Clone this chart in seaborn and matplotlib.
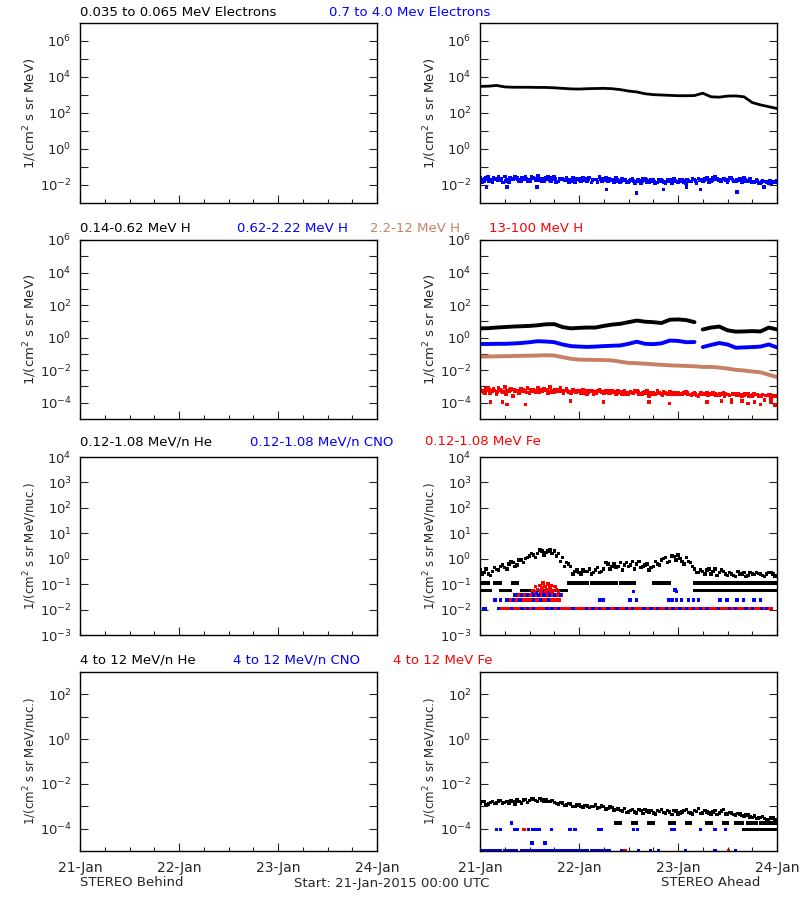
import numpy as np
import pandas as pd
import matplotlib
matplotlib.use("Agg")
import matplotlib.pyplot as plt
import seaborn as sns

sns.set_style("ticks")
plt.rcParams['font.family'] = ['DejaVu Sans']

# ---------------- data (log10 of flux) ----------------
# time in hours since 21-Jan-2015 00:00 UTC
day_labels = ["21-Jan", "22-Jan", "23-Jan", "24-Jan"]

# Row 1 : electrons (STEREO Ahead)
e_low_2h = [3.48, 3.49, 3.53, 3.45, 3.43, 3.43, 3.43, 3.42, 3.42, 3.40, 3.37, 3.34,
            3.33, 3.35, 3.36, 3.37, 3.35, 3.30, 3.22, 3.17, 3.07, 3.02, 3.00, 2.98,
            2.96, 2.96, 2.97, 3.10, 2.90, 2.88, 2.94, 2.95, 2.90, 2.58, 2.45, 2.35, 2.25]
e_high_1h = [-1.62, -1.78, -1.55, -1.85, -1.66, -1.74, -1.52, -1.82, -1.70, -1.58, -1.78, -1.55,
             -1.72, -1.62, -1.50, -1.76, -1.60, -1.72, -1.55, -1.80, -1.66, -1.58, -1.74, -1.84,
             -1.68, -1.60, -1.78, -1.86, -1.70, -1.56, -1.66, -1.80, -1.70, -1.60, -1.84, -1.72,
             -1.86, -1.68, -1.80, -1.88, -1.66, -1.82, -1.74, -1.86, -1.70, -1.90, -1.78, -1.66,
             -1.86, -1.74, -1.88, -1.80, -1.70, -1.64, -1.78, -1.62, -1.76, -1.56, -1.72, -1.66,
             -1.82, -1.62, -1.76, -1.66, -1.58, -1.78, -1.86, -1.74, -1.88, -1.80, -1.90, -1.84, -1.78]
e_high_half = [-1.84, -1.62, -1.74, -1.68, -1.56, -1.86, -1.70, -1.64, -1.54, -1.76, -1.68, -1.80,
               -1.56, -1.74, -1.66, -1.78, -1.54, -1.62, -1.84, -1.70, -1.74, -1.86, -1.62, -1.70,
               -1.80, -1.74, -1.58, -1.70, -1.84, -1.76, -1.62, -1.74, -1.86, -1.76, -1.68, -1.84,
               -1.72, -1.90, -1.76, -1.66, -1.86, -1.72, -1.92, -1.78, -1.84, -1.74, -1.88, -1.80,
               -1.70, -1.86, -1.78, -1.66, -1.88, -1.74, -1.66, -1.82, -1.60, -1.68, -1.80, -1.72,
               -1.60, -1.80, -1.72, -1.84, -1.76, -1.66, -1.82, -1.90, -1.78, -1.84, -1.92, -1.86]
e_high_q = [-1.70, -1.66, -1.80, -1.60, -1.72, -1.68, -1.76, -1.58, -1.64, -1.70, -1.62, -1.68,
            -1.78, -1.64, -1.72, -1.68, -1.70, -1.76, -1.66, -1.64, -1.70, -1.72, -1.78, -1.66,
            -1.72, -1.68, -1.66, -1.74, -1.70, -1.68, -1.74, -1.66, -1.72, -1.70, -1.76, -1.74,
            -1.78, -1.76, -1.70, -1.80, -1.74, -1.76, -1.80, -1.72, -1.78, -1.80, -1.74, -1.76,
            -1.80, -1.78, -1.74, -1.80, -1.76, -1.72, -1.74, -1.70, -1.72, -1.70, -1.74, -1.68,
            -1.72, -1.70, -1.74, -1.72, -1.70, -1.76, -1.80, -1.78, -1.82, -1.80, -1.78, -1.82]
e_high_out_t = [1.6, 6.5, 13.8, 30.7, 38.0, 44.5, 50.0, 53.4, 62.3, 68.8]
e_high_out_v = [-2.10, -2.10, -2.10, -2.25, -2.45, -2.25, -2.10, -2.25, -2.40, -2.10]

# Row 2 : protons (STEREO Ahead), 2-hourly; gap after hour 52
h1_2h = [0.57, 0.58, 0.62, 0.65, 0.68, 0.70, 0.72, 0.76, 0.82, 0.83, 0.65, 0.57, 0.60, 0.62,
         0.62, 0.72, 0.80, 0.85, 0.95, 1.05, 0.98, 0.95, 0.90, 1.10, 1.12, 1.08, 0.95,
         0.50, 0.62, 0.68, 0.45, 0.37, 0.38, 0.40, 0.38, 0.62, 0.50]
h2_2h = [-0.39, -0.39, -0.38, -0.38, -0.36, -0.33, -0.28, -0.22, -0.24, -0.28, -0.42, -0.52,
         -0.55, -0.57, -0.55, -0.52, -0.50, -0.48, -0.38, -0.25, -0.38, -0.40, -0.35, -0.18,
         -0.20, -0.28, -0.27, -0.58, -0.45, -0.33, -0.42, -0.62, -0.60, -0.58, -0.55, -0.42, -0.60]
h3_2h = [-1.17, -1.16, -1.15, -1.14, -1.13, -1.12, -1.11, -1.10, -1.08, -1.10, -1.20, -1.30,
         -1.35, -1.36, -1.37, -1.38, -1.40, -1.48, -1.55, -1.57, -1.60, -1.64, -1.67, -1.70,
         -1.72, -1.74, -1.76, -1.80, -1.80, -1.84, -1.90, -1.98, -2.02, -2.08, -2.13, -2.28, -2.42]
h4_1h = [-3.20, -3.35, -3.10, -3.30, -3.45, -3.20, -3.05, -3.30, -3.60, -3.25, -3.15, -3.30,
         -3.40, -3.20, -3.10, -3.30, -3.25, -3.05, -3.35, -3.20, -3.30, -3.15, -3.40, -3.25,
         -3.30, -3.20, -3.50, -3.30, -3.35, -3.20, -3.40, -3.30, -3.25, -3.45, -3.35, -3.30,
         -3.50, -3.40, -3.30, -3.45, -3.35, -3.60, -3.40, -3.30, -3.45, -3.40, -3.35, -3.50,
         -3.40, -3.45, -3.35, -3.50, -3.40, -3.60, -3.45, -3.40, -3.50, -3.45, -3.55, -3.40,
         -3.50, -3.80, -3.45, -3.50, -3.55, -3.45, -3.60, -3.50, -3.55, -3.85, -3.50, -3.55, -3.60]
h4_half = [-3.30, -3.15, -3.40, -3.25, -3.10, -3.35, -3.25, -3.15, -3.30, -3.40, -3.20, -3.10,
           -3.30, -3.35, -3.20, -3.15, -3.40, -3.25, -3.30, -3.10, -3.25, -3.35, -3.20, -3.30,
           -3.40, -3.30, -3.25, -3.45, -3.30, -3.35, -3.25, -3.40, -3.35, -3.30, -3.45, -3.40,
           -3.35, -3.30, -3.45, -3.40, -3.30, -3.45, -3.50, -3.40, -3.35, -3.45, -3.40, -3.50,
           -3.45, -3.40, -3.50, -3.45, -3.55, -3.40, -3.50, -3.45, -3.40, -3.55, -3.50, -3.45,
           -3.55, -3.50, -3.45, -3.60, -3.50, -3.55, -3.45, -3.60, -3.50, -3.55, -3.65, -3.55]
h4_q = [-3.25, -3.40, -3.20, -3.15, -3.35, -3.28, -3.45, -3.22, -3.18, -3.32, -3.26, -3.38,
        -3.22, -3.28, -3.35, -3.24, -3.18, -3.36, -3.22, -3.30, -3.40, -3.26, -3.32, -3.36,
        -3.25, -3.42, -3.34, -3.30, -3.40, -3.28, -3.35, -3.44, -3.32, -3.40, -3.36, -3.48,
        -3.38, -3.44, -3.36, -3.50, -3.42, -3.38, -3.46, -3.40, -3.52, -3.44, -3.48, -3.40,
        -3.50, -3.44, -3.42, -3.54, -3.46, -3.50, -3.44, -3.56, -3.48, -3.52, -3.46, -3.58,
        -3.50, -3.46, -3.56, -3.52, -3.48, -3.58, -3.54, -3.50, -3.60, -3.56, -3.52, -3.60]
h4_out_t = [2.5, 5.5, 6.5, 11.0, 22.0, 30.0, 41.0, 46.0, 55.0, 58.5, 61.0, 63.5, 65.0, 66.5, 68.0, 70.5, 71.5]
h4_out_v = [-3.95, -3.95, -4.10, -4.10, -3.90, -3.95, -3.95, -4.05, -3.95, -3.90, -3.95, -3.90, -4.05, -3.95, -4.10, -3.90, -4.15]

# Row 3 : 0.12-1.08 MeV/n heavy ions (STEREO Ahead)
he1_1h = [-0.45, -0.55, -0.60, -0.50, -0.42, -0.30, -0.35, -0.20, -0.15, -0.25, -0.05, 0.00,
          0.10, 0.15, 0.20, 0.30, 0.25, 0.35, 0.30, 0.20, 0.05, -0.15, -0.30, -0.50,
          -0.55, -0.45, -0.50, -0.60, -0.45, -0.55, -0.40, -0.20, -0.30, -0.35, -0.15, -0.25,
          -0.30, -0.10, -0.20, -0.35, -0.25, -0.45, -0.30, -0.20, -0.05, 0.05, -0.10, 0.08,
          0.15, -0.10, 0.05, -0.15, -0.40, -0.55, -0.50, -0.45, -0.60, -0.40, -0.55, -0.50,
          -0.65, -0.60, -0.70, -0.60, -0.55, -0.65, -0.60, -0.55, -0.60, -0.70, -0.55, -0.60, -0.65]
he1_half = [-0.60, -0.40, -0.65, -0.35, -0.45, -0.25, -0.40, -0.10, -0.30, -0.05, -0.15, 0.05,
            0.20, 0.05, 0.35, 0.15, 0.30, 0.20, 0.10, -0.10, -0.30, -0.20, -0.60, -0.45,
            -0.60, -0.50, -0.40, -0.55, -0.35, -0.50, -0.15, -0.40, -0.20, -0.30, -0.45, -0.15,
            -0.25, -0.40, -0.10, -0.30, -0.20, -0.35, -0.10, -0.25, 0.00, -0.15, 0.10, -0.05,
            0.00, -0.20, -0.10, -0.30, -0.55, -0.45, -0.60, -0.40, -0.50, -0.65, -0.45, -0.60,
            -0.55, -0.65, -0.50, -0.60, -0.70, -0.55, -0.62, -0.58, -0.65, -0.60, -0.55, -0.68]
he1_lvl_a = -0.96
he1_lvl_a_spans = [(0, 2), (3.5, 5), (8, 9), (21.5, 26), (27, 33), (34, 37.5), (42, 46), (52, 72)]
he1_lvl_b = -1.26
he1_lvl_b_spans = [(0, 2.5), (5, 7.5), (10, 12.5), (15, 21), (52, 72)]

cno1_lvl_low = -1.96
cno1_low_t = [0.8, 1.2, 4.5, 7.6, 10.2, 11.5, 13.0, 16.2, 17.5, 19.0, 22.5, 25.8, 27.4, 29.0,
              31.0, 33.2, 35.5, 37.0, 39.8, 41.5, 43.0, 45.2, 46.8, 48.5, 50.0, 51.8, 53.5,
              55.0, 57.8, 60.5, 62.0, 64.5, 66.0, 68.2, 69.5]
cno1_lvl_mid = -1.62
cno1_mid_t = [3.6, 4.9, 6.5, 8.1, 9.7, 12.9, 14.6, 16.6, 29.0, 29.8, 36.4, 38.0, 45.7, 46.5,
              47.7, 48.9, 50.5, 51.8, 53.0, 58.2, 59.9, 62.3, 63.9, 66.4, 68.0]
cno1_lvl_up = -1.42
cno1_up_t = [8.5, 10.0, 11.5, 13.0, 14.2, 15.5, 16.8, 18.0, 19.5]
cno1_peak_t = [12.8, 13.6, 14.4, 15.2, 16.0, 16.8, 17.6, 37.2, 47.3, 47.6]
cno1_peak_v = [-1.30, -1.35, -1.25, -1.30, -1.28, -1.35, -1.30, -1.30, -1.23, -1.30]

fe1_low_spans = [(4.5, 70.5)]
fe1_mid_spans = [(7.3, 19.4)]
fe1_up_spans = [(9.0, 20.0)]
fe1_peak_t = [12.8, 13.2, 13.5, 14.0, 14.5, 14.8, 15.0, 15.3, 15.8, 16.0, 16.2, 16.5,
              17.0, 17.2, 17.4, 17.8, 18.2, 18.6, 19.0]
fe1_peak_v = [-1.25, -1.30, -1.10, -1.20, -1.05, -1.28, -1.15, -0.95, -1.10, -1.30, -1.20, -1.00,
              -1.15, -1.30, -1.05, -1.25, -1.10, -1.20, -1.30]

# Row 4 : 4-12 MeV/n heavy ions (STEREO Ahead)
he2_1h = [-2.85, -2.80, -2.90, -2.78, -2.85, -2.75, -2.82, -2.88, -2.80, -2.72, -2.85, -2.70,
          -2.75, -2.68, -2.78, -2.72, -2.70, -2.80, -2.82, -2.90, -2.85, -2.95, -2.90, -3.00,
          -2.95, -3.05, -2.98, -3.02, -2.95, -3.05, -3.00, -3.10, -3.05, -3.15, -3.20, -3.10,
          -3.25, -3.15, -3.30, -3.20, -3.15, -3.25, -3.30, -3.20, -3.15, -3.30, -3.25, -3.20,
          -3.35, -3.25, -3.15, -3.30, -3.20, -3.10, -3.30, -3.25, -3.35, -3.20, -3.30, -3.15,
          -3.35, -3.30, -3.40, -3.35, -3.45, -3.40, -3.50, -3.55, -3.50, -3.55, -3.60, -3.50, -3.60]
he2_half = [-2.78, -2.92, -2.82, -2.88, -2.76, -2.86, -2.80, -2.74, -2.90, -2.78, -2.72, -2.82,
            -2.68, -2.74, -2.66, -2.76, -2.78, -2.74, -2.88, -2.84, -2.96, -2.88, -3.02, -2.94,
            -3.00, -2.96, -3.06, -3.00, -3.08, -2.98, -3.12, -3.04, -3.20, -3.12, -3.22, -3.28,
            -3.18, -3.26, -3.14, -3.32, -3.22, -3.18, -3.34, -3.24, -3.28, -3.20, -3.36, -3.22,
            -3.30, -3.18, -3.28, -3.34, -3.24, -3.32, -3.20, -3.30, -3.26, -3.36, -3.22, -3.34,
            -3.28, -3.38, -3.32, -3.42, -3.38, -3.48, -3.44, -3.52, -3.46, -3.58, -3.52, -3.62]
he2_lvl_a = -3.75
he2_lvl_a_spans = [(33, 34), (37, 38), (41, 42), (46, 47), (50, 51), (55, 56), (59, 60),
                   (62, 63.5), (65, 67), (68, 72)]
he2_lvl_b = -4.04
he2_lvl_b_spans = [(64, 72)]
cno2_lvl_a = -4.04
cno2_a_t = [4.0, 4.9, 8.5, 9.1, 11.7, 12.8, 13.8, 14.4, 17.4, 21.8, 23.0, 28.7, 29.5, 37.2,
            38.2, 46.5, 47.1, 53.4, 57.0, 59.5]
cno2_lvl_b = -4.97
cno2_b_spans = [(0.4, 5), (6, 9), (10, 12), (12.8, 20), (20.8, 26), (27, 31.6)]
cno2_b_t = [34.4, 38.4, 41.3, 43.3, 49.8, 57.0, 61.9]
cno2_odd_t = [7.7, 12.6, 15.8]
cno2_odd_v = [-3.75, -4.64, -4.64]
fe2_t = [10.7, 35.2, 60.3]
fe2_v = [-4.04, -4.97, -4.97]

# ---------------- styling ----------------
BLUE = "#0000FF"
RED = "#FF0000"
BROWN = "#C88064"
W, H = 800, 900
rows_px = [(23, 203), (240, 419), (457, 635), (672, 851)]
cols_px = [(80, 377), (480, 777)]
ylims = [(1e-3, 1e7), (1e-5, 1e6), (1e-3, 1e4), (1e-5, 1e3)]
ylab_exps = [[-2, 0, 2, 4, 6], [-4, -2, 0, 2, 4, 6], [-3, -2, -1, 0, 1, 2, 3, 4], [-4, -2, 0, 2]]
ymin_exps = [[-1, 1, 3, 5], [-3, -1, 1, 3, 5], [], [-3, -1, 1]]
ylabels = ["1/(cm$^2$ s sr MeV)", "1/(cm$^2$ s sr MeV)",
           "1/(cm$^2$ s sr MeV/nuc.)", "1/(cm$^2$ s sr MeV/nuc.)"]

fig = plt.figure(figsize=(8, 9), dpi=100)
fig.patch.set_facecolor("white")


def add_ax(c, r):
    x0, x1 = cols_px[c]
    y0, y1 = rows_px[r]
    return fig.add_axes([x0 / W, 1 - y1 / H, (x1 - x0) / W, (y1 - y0) / H])


def hours(n, step=1.0, start=0.0):
    return start + step * np.arange(n)


def span_times(spans, step=1 / 3):
    return np.concatenate([np.arange(a, b + 1e-9, step) for a, b in spans])


def pts(ax, t, logv, color, s=6):
    t = np.asarray(t, float)
    v = 10 ** np.asarray(logv, float)
    if np.ndim(v) == 0:
        v = np.full(len(t), float(v))
    df = pd.DataFrame({"t": t, "v": v})
    sns.scatterplot(data=df, x="t", y="v", ax=ax, color=color, marker="s",
                    s=s, linewidth=0, edgecolor="none", legend=False)


def line(ax, t, logv, color, lw=2.5):
    df = pd.DataFrame({"t": t, "v": 10 ** np.asarray(logv, float)})
    sns.lineplot(data=df, x="t", y="v", ax=ax, color=color, linewidth=lw,
                 errorbar=None, sort=False, legend=False)


axes = {}
for r in range(4):
    for c in range(2):
        axes[(r, c)] = add_ax(c, r)

# ---- Row 1 data
ax = axes[(0, 1)]
line(ax, hours(len(e_low_2h), 2), e_low_2h, "black", lw=2.0)
pts(ax, hours(len(e_high_1h)), e_high_1h, BLUE, s=7)
pts(ax, hours(len(e_high_half), 1, 0.5), e_high_half, BLUE, s=7)
pts(ax, hours(len(e_high_q), 1, 0.25), e_high_q, BLUE, s=7)
pts(ax, e_high_out_t, e_high_out_v, BLUE)

# ---- Row 2 data
ax = axes[(1, 1)]
t2 = hours(len(h1_2h), 2)
line(ax, t2[:27], h1_2h[:27], "black", lw=2.8)
line(ax, t2[27:], h1_2h[27:], "black", lw=2.8)
line(ax, t2[:27], h2_2h[:27], BLUE, lw=2.8)
line(ax, t2[27:], h2_2h[27:], BLUE, lw=2.8)
line(ax, t2, h3_2h, BROWN, lw=2.8)
pts(ax, hours(len(h4_1h)), h4_1h, RED, s=7)
pts(ax, hours(len(h4_half), 1, 0.5), h4_half, RED, s=7)
pts(ax, hours(len(h4_q), 1, 0.25), h4_q, RED, s=7)
pts(ax, h4_out_t, h4_out_v, RED)

# ---- Row 3 data
ax = axes[(2, 1)]
pts(ax, hours(len(he1_1h)), he1_1h, "black")
pts(ax, hours(len(he1_half), 1, 0.5), he1_half, "black")
pts(ax, span_times(he1_lvl_a_spans, 0.5), he1_lvl_a, "black")
pts(ax, span_times(he1_lvl_b_spans, 0.4), he1_lvl_b, "black")
pts(ax, span_times(fe1_low_spans, 0.25), cno1_lvl_low, RED)
pts(ax, span_times(fe1_mid_spans, 0.3), cno1_lvl_mid, RED)
pts(ax, span_times(fe1_up_spans, 0.4), cno1_lvl_up, RED)
pts(ax, cno1_low_t, cno1_lvl_low, BLUE)
pts(ax, cno1_mid_t, cno1_lvl_mid, BLUE)
pts(ax, cno1_up_t, cno1_lvl_up, BLUE)
pts(ax, cno1_peak_t, cno1_peak_v, BLUE)
pts(ax, fe1_peak_t, fe1_peak_v, RED)

# ---- Row 4 data
ax = axes[(3, 1)]
pts(ax, hours(len(he2_1h)), he2_1h, "black")
pts(ax, hours(len(he2_half), 1, 0.5), he2_half, "black")
pts(ax, span_times(he2_lvl_a_spans, 0.5), he2_lvl_a, "black")
pts(ax, span_times(he2_lvl_b_spans, 0.25), he2_lvl_b, "black")
pts(ax, cno2_a_t, cno2_lvl_a, BLUE)
pts(ax, span_times(cno2_b_spans, 0.4), cno2_lvl_b, BLUE)
pts(ax, cno2_b_t, cno2_lvl_b, BLUE)
pts(ax, cno2_odd_t, cno2_odd_v, BLUE)
pts(ax, fe2_t, fe2_v, RED)

# ---- axes formatting
for (r, c), ax in axes.items():
    ax.set_facecolor("white")
    ax.set_yscale("log")
    ax.set_ylim(*ylims[r])
    ax.set_xlim(0, 72)
    ax.set_yticks([10.0 ** e for e in ylab_exps[r]])
    ax.set_yticklabels([f"$10^{{{e}}}$" for e in ylab_exps[r]])
    ax.set_yticks([10.0 ** e for e in ymin_exps[r]], minor=True)
    ax.yaxis.set_minor_formatter(matplotlib.ticker.NullFormatter())
    ax.set_xticks([0, 24, 48, 72])
    ax.set_xticks(list(range(6, 72, 6)), minor=True)
    ax.tick_params(axis="y", which="both", direction="in", left=True, right=True,
                   length=6, width=0.8, labelsize=9.5, pad=6)
    ax.tick_params(axis="x", which="major", direction="in", top=False, bottom=True,
                   length=6, width=0.8, labelsize=10, pad=7)
    ax.tick_params(axis="x", which="minor", direction="in", top=False, bottom=True,
                   length=3, width=0.8)
    if r == 3:
        ax.set_xticklabels(day_labels)
    else:
        ax.set_xticklabels([])
    ax.set_xlabel("")
    ax.set_ylabel(ylabels[r], fontsize=9.5 if r < 2 else 8.5)
    ax.yaxis.set_label_coords(-0.138, 0.5)
    for sp in ax.spines.values():
        sp.set_color("black")
        sp.set_linewidth(1.0)
        sp.set_visible(True)

# ---- headings
fs = 9.5
heads = [
    (13, [(80, "0.035 to 0.065 MeV Electrons", "black"), (329, "0.7 to 4.0 Mev Electrons", BLUE)]),
    (229, [(80, "0.14-0.62 MeV H", "black"), (237, "0.62-2.22 MeV H", BLUE),
           (370, "2.2-12 MeV H", BROWN), (489, "13-100 MeV H", RED)]),
    (442, [(80, "0.12-1.08 MeV/n He", "black"), (250, "0.12-1.08 MeV/n CNO", BLUE),
           (425, "0.12-1.08 MeV Fe", RED)]),
    (660, [(80, "4 to 12 MeV/n He", "black"), (233, "4 to 12 MeV/n CNO", BLUE),
           (393, "4 to 12 MeV Fe", RED)]),
]
for y, items in heads:
    for x, s, col in items:
        fig.text(x / W, 1 - y / H, s, color=col, fontsize=fs, ha="left", va="center")

fig.text(80 / W, 1 - 883 / H, "STEREO Behind", fontsize=fs, ha="left", va="center")
fig.text(392 / W, 1 - 883 / H, "Start: 21-Jan-2015 00:00 UTC", fontsize=fs, ha="center", va="center")
fig.text(760 / W, 1 - 883 / H, "STEREO Ahead", fontsize=fs, ha="right", va="center")

fig.savefig("out.png", dpi=100, facecolor="white")
